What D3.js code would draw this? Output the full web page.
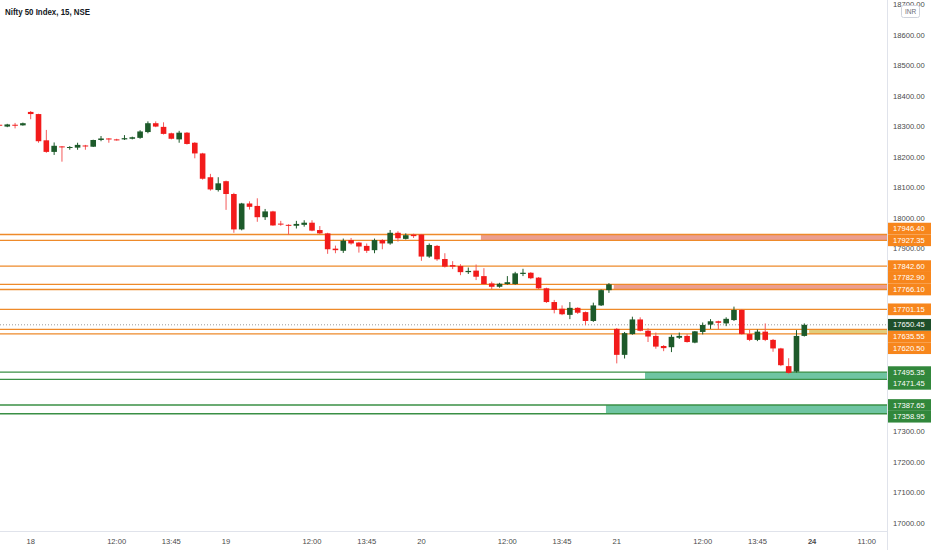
<!DOCTYPE html>
<html>
<head>
<meta charset="utf-8">
<script src="https://cdn.jsdelivr.net/npm/d3@7"></script>
<style>
  body { margin: 0; background: #fff; }
  text { font-family: "Liberation Sans", Arial, sans-serif; }
</style>
</head>
<body>
<div id="chart"></div>
<script>
// 15 min candles, last 4 of the 17th then 18, 19, 20, 21
var opens  = [18306,18300,18306,18304,18348,18341,18255,18217,18235,18230,18231,18238,18234,18256,18261,18258,18258,18260,18263,18282,18311,18299,18278,18258,18280,18247,18212,18134,18092,
              18121,18079,17963,18048,18040,18003,18022,17982,17978,17975,17978,17985,17961,17950,17900,17893,17928,17920,17909,17895,17928,17917,17952,17932,17946,
              17946,17874,17909,17866,17846,17843,17823,17828,17810,17786,17775,17784,17784,17817,17821,17805,17770,17725,17703,17683,17706,17692,17663,17714,17764,
              17637,17552,17620,17668,17631,17614,17581,17577,17608,17614,17592,17627,17651,17662,17655,17666,17699,17620,17601,17628,17601,17573,17515,17497,17614]
var highs  = [18308,18309,18312,18313,18351,18342,18289,18248,18236,18236,18247,18240,18257,18269,18262,18260,18272,18267,18288,18317,18317,18314,18280,18286,18282,18249,18214,18145,18134,
              18123,18083,18050,18055,18065,18030,18024,17991,17980,17991,17993,17993,17974,17952,17910,17933,17935,17922,17917,17933,17931,17961,17957,17950,17949,
              17948,17917,17912,17885,17859,17849,17838,17848,17836,17792,17788,17810,17824,17834,17823,17807,17772,17732,17714,17725,17708,17694,17723,17766,17787,
              17640,17627,17677,17675,17639,17625,17584,17618,17625,17620,17630,17658,17669,17664,17675,17710,17702,17635,17635,17655,17604,17575,17541,17633,17655]
var lows   = [18301,18298,18294,18303,18324,18247,18214,18207,18185,18224,18224,18224,18233,18252,18247,18254,18256,18258,18260,18278,18298,18274,18258,18247,18241,18196,18126,18090,18087,
              18027,17952,17960,18028,17988,17994,17975,17975,17945,17966,17972,17957,17948,17883,17885,17886,17913,17887,17886,17885,17898,17913,17923,17930,17935,
              17860,17870,17860,17838,17833,17813,17817,17797,17782,17767,17772,17782,17782,17810,17800,17768,17722,17688,17682,17669,17686,17649,17660,17712,17755,
              17524,17540,17618,17629,17594,17572,17564,17561,17604,17592,17590,17619,17637,17636,17646,17663,17618,17597,17597,17597,17562,17515,17490,17494,17612]
var closes = [18304,18307,18304,18311,18341,18252,18217,18237,18232,18233,18240,18236,18256,18261,18259,18257,18262,18265,18284,18311,18300,18276,18260,18280,18243,18212,18129,18094,18114,
              18079,17963,18048,18037,18003,18022,17976,17980,17975,17981,17985,17959,17950,17898,17895,17926,17917,17907,17893,17928,17917,17952,17934,17944,17941,
              17874,17912,17865,17841,17841,17823,17827,17808,17784,17775,17785,17790,17819,17821,17803,17770,17725,17699,17685,17706,17690,17663,17714,17764,17783,
              17552,17623,17668,17631,17612,17579,17574,17611,17614,17594,17629,17650,17662,17657,17670,17699,17620,17601,17628,17601,17573,17518,17493,17614,17650.45]

// time axis labels (candle index -> text)
var timeTickIndex = [4, 15, 22, 29, 40, 47, 54, 65, 72, 79, 90, 97, 104, 111]
var timeTickText  = ["18", "12:00", "13:45", "19", "12:00", "13:45", "20", "12:00", "13:45", "21", "12:00", "13:45", "24", "11:00"]

// price axis
var priceTicks = d3.range(17000, 18701, 100)

// horizontal levels
var levelPrices = [17946.40, 17927.35, 17842.60, 17782.90, 17766.10, 17701.15, 17635.55, 17620.50, 17495.35, 17471.45, 17387.65, 17358.95]
var levelKinds  = ["res", "res", "res", "res", "res", "res", "res", "res", "sup", "sup", "sup", "sup"]

// zones: price top / bottom, candle index where the fill starts, kind
var zoneTops    = [17946.40, 17782.90, 17635.55, 17495.35, 17387.65]
var zoneBottoms = [17927.35, 17766.10, 17620.50, 17471.45, 17358.95]
var zoneStarts  = [62, 79, 104, 83, 78]
var zoneKinds   = ["res", "res", "mid", "sup", "sup"]

var lastPrice = 17650.45

var width = 932, height = 550
var plotRight = 887, plotBottom = 531
var labelH = 11.7

var svg = d3.select("#chart").append("svg")
    .attr("width", width)
    .attr("height", height)

var xScale = d3.scaleLinear().domain([4, 103]).range([30.7, 804.3])
var yScale = d3.scaleLinear().domain([17000, 18700]).range([523.3, 4.5])

var lineColor = { res: "#ee8a2a", sup: "#3a8f45" }
var labelColor = { res: "#f7861c", sup: "#31873b" }
var zoneColor = { res: "#eb9e90", mid: "#e2cd7c", sup: "#6fc5a2" }

var plot = svg.append("g")

// zones
zoneTops.forEach(function(top, i) {
    plot.append("rect")
        .attr("x", xScale(zoneStarts[i]) - 3)
        .attr("y", yScale(top))
        .attr("width", plotRight - xScale(zoneStarts[i]) + 3)
        .attr("height", yScale(zoneBottoms[i]) - yScale(top))
        .attr("fill", zoneColor[zoneKinds[i]])
})

// level lines
levelPrices.forEach(function(p, i) {
    plot.append("line")
        .attr("x1", 0).attr("x2", plotRight)
        .attr("y1", yScale(p)).attr("y2", yScale(p))
        .attr("stroke", lineColor[levelKinds[i]])
        .attr("stroke-width", 1.3)
})

// last price dotted line
plot.append("line")
    .attr("x1", 0).attr("x2", plotRight)
    .attr("y1", yScale(lastPrice)).attr("y2", yScale(lastPrice))
    .attr("stroke", "#9a9a9a")
    .attr("stroke-width", 1)
    .attr("stroke-dasharray", "1,2")

// candles
var candles = plot.selectAll(".candle")
    .data(opens.map(function(o, i) { return { i: i, o: o, h: highs[i], l: lows[i], c: closes[i] } }))
    .enter().append("g")

candles.append("line")
    .attr("x1", d => xScale(d.i)).attr("x2", d => xScale(d.i))
    .attr("y1", d => yScale(d.h)).attr("y2", d => yScale(d.l))
    .attr("stroke", d => d.c >= d.o ? "#1d5a2a" : "#f45a5a")
    .attr("stroke-width", 1)

candles.append("rect")
    .attr("x", d => xScale(d.i) - 2.8)
    .attr("width", 5.6)
    .attr("y", d => yScale(Math.max(d.o, d.c)))
    .attr("height", d => Math.max(1, Math.abs(yScale(d.o) - yScale(d.c))))
    .attr("fill", d => d.c >= d.o ? "#1d5a2a" : "#f21b1b")

// axis borders
svg.append("line")
    .attr("x1", plotRight + 0.5).attr("x2", plotRight + 0.5)
    .attr("y1", 0).attr("y2", height)
    .attr("stroke", "#e0e3eb")
svg.append("line")
    .attr("x1", 0).attr("x2", plotRight)
    .attr("y1", plotBottom + 0.5).attr("y2", plotBottom + 0.5)
    .attr("stroke", "#e0e3eb")

// price labels, spread away from the last price so they don't overlap
var labels = levelPrices.map(function(p, i) {
    return { price: p, y: yScale(p), fill: labelColor[levelKinds[i]] }
})
var above = labels.filter(d => d.price > lastPrice).sort((a, b) => b.y - a.y)
var below = labels.filter(d => d.price < lastPrice).sort((a, b) => a.y - b.y)
var prevY = yScale(lastPrice)
above.forEach(function(d) {
    if (prevY - d.y < labelH) d.y = prevY - labelH
    prevY = d.y
})
prevY = yScale(lastPrice)
below.forEach(function(d) {
    if (d.y - prevY < labelH) d.y = prevY + labelH
    prevY = d.y
})
labels.push({ price: lastPrice, y: yScale(lastPrice), fill: "#1e4f2a" })

// price ticks (the ones under a label box are covered)
var shownTicks = priceTicks.filter(function(t) {
    var ty = yScale(t)
    return !labels.some(l => Math.abs(l.y - ty) < labelH / 2)
})
svg.append("g").selectAll("text")
    .data(shownTicks)
    .enter().append("text")
    .attr("x", 893)
    .attr("y", d => yScale(d))
    .attr("dy", "0.35em")
    .attr("font-size", "7.6px")
    .attr("fill", "#4a4a4a")
    .text(d => d.toFixed(2))

// time ticks
svg.append("g").selectAll("text")
    .data(timeTickIndex)
    .enter().append("text")
    .attr("x", d => xScale(d))
    .attr("y", 541)
    .attr("dy", "0.35em")
    .attr("text-anchor", "middle")
    .attr("font-size", "7.6px")
    .attr("font-weight", (d, i) => timeTickText[i] == "24" ? "bold" : "normal")
    .attr("fill", "#4a4a4a")
    .text((d, i) => timeTickText[i])

var lab = svg.append("g").selectAll("g")
    .data(labels)
    .enter().append("g")
lab.append("rect")
    .attr("x", plotRight + 1)
    .attr("y", d => d.y - labelH / 2)
    .attr("width", 43)
    .attr("height", labelH)
    .attr("fill", d => d.fill)
lab.append("text")
    .attr("x", 893)
    .attr("y", d => d.y)
    .attr("dy", "0.35em")
    .attr("font-size", "7.6px")
    .attr("fill", "#fff")
    .text(d => d.price.toFixed(2))

// INR badge
svg.append("rect")
    .attr("x", 901.5).attr("y", 5.5)
    .attr("width", 18).attr("height", 12)
    .attr("rx", 2)
    .attr("fill", "#fff")
    .attr("stroke", "#cfd3dc")
svg.append("text")
    .attr("x", 910.5).attr("y", 11.5)
    .attr("dy", "0.35em")
    .attr("text-anchor", "middle")
    .attr("font-size", "6.5px")
    .attr("fill", "#6a6d78")
    .text("INR")

// title
svg.append("text")
    .attr("x", 5)
    .attr("y", 12)
    .attr("dy", "0.35em")
    .attr("font-size", "8.8px")
    .attr("font-weight", "bold")
    .attr("textLength", 85)
    .attr("lengthAdjust", "spacingAndGlyphs")
    .attr("fill", "#131722")
    .text("Nifty 50 Index, 15, NSE")
</script>
</body>
</html>
